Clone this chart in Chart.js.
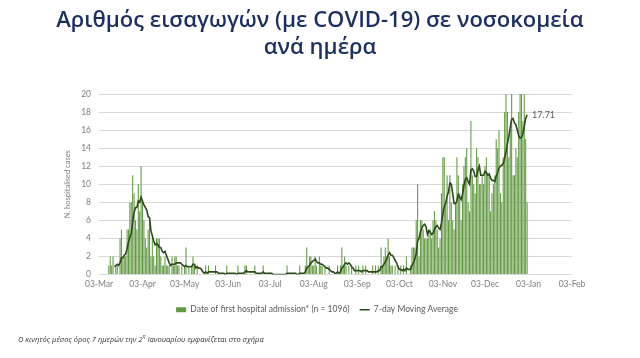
<!DOCTYPE html>
<html><head><meta charset="utf-8">
<script src="https://cdn.jsdelivr.net/npm/chart.js@4.4.1/dist/chart.umd.min.js"></script>
<style>
html,body{margin:0;padding:0;background:#fff;width:640px;height:358px;overflow:hidden;}
#wrap{position:relative;width:640px;height:358px;}
canvas{position:absolute;left:0;top:0;}
#title{position:absolute;left:0;top:5px;width:640px;text-align:center;font-family:'Open Sans',sans-serif;font-weight:600;font-size:22px;line-height:27px;color:#1c2f5e;}
#note{position:absolute;left:18px;top:333px;font-family:'Open Sans',sans-serif;font-style:italic;font-size:7.5px;color:#333333;white-space:nowrap;}
#note sup{font-size:5px;}
</style></head>
<body><div id="wrap"><canvas id="c" width="640" height="358"></canvas>
<div id="title">Αριθμός εισαγωγών (με COVID-19) σε νοσοκομεία<br>ανά ημέρα</div>
<div id="note">Ο κινητός μέσος όρος 7 ημερών την 2<sup>η</sup> Ιανουαρίου εμφανίζεται στο σχήμα</div>
</div>
<script>
// Day 0 = 03 Mar 2020; one value per day up to 02 Jan 2021
const firstDayLabel = '2020-03-03';
const tickLabels = ['03-Mar','03-Apr','03-May','03-Jun','03-Jul','03-Aug','03-Sep','03-Oct','03-Nov','03-Dec','03-Jan','03-Feb'];
const seriesNames = ['Date of first hospital admission* (n = 1096)', '7-day Moving Average'];

const admissions = [
0,0,0,0,0,0,0,1,2,1,
2,0,1,1,0,4,5,2,2,2,
5,5,8,8,11,9,6,5,10,7,
12,8,6,4,3,5,6,2,4,2,
1,4,4,4,2,1,1,2,1,1,
1,0,2,1,2,2,1,1,0,1,
0,1,3,0,1,0,1,2,1,0,
1,0,0,0,0,0,1,0,1,0,
0,0,0,1,0,0,0,0,0,0,
0,1,0,0,0,0,0,0,0,1,
0,0,0,0,1,1,0,0,0,0,
0,1,0,0,0,0,0,1,0,0,
0,0,0,0,0,0,0,0,0,0,
0,0,0,0,1,0,0,0,0,0,
0,0,0,1,0,0,0,1,3,1,
2,2,1,1,2,1,0,2,1,1,
0,1,0,0,1,0,0,0,0,0,
1,0,1,3,1,2,1,0,1,0,
1,0,0,1,0,1,0,0,1,0,
1,0,0,0,0,1,0,1,0,1,
0,3,1,2,3,2,4,2,1,1,
0,1,0,1,0,1,0,1,0,2,
0,0,1,3,3,3,6,10,2,6,
6,5,4,4,4,5,5,4,6,7,
6,5,3,4,9,13,13,8,11,6,
11,8,6,5,8,13,11,9,6,10,
12,13,14,8,7,17,11,10,9,14,
13,10,10,11,10,12,13,11,11,7,
9,10,11,15,14,16,9,8,13,18,
21,18,13,16,21,11,11,14,13,18,
21,22,17,21,15,8
];

const movingAvg = [
null,null,null,null,null,null,null,null,null,null,
null,0.86,1.0,1.14,1.0,1.29,1.86,1.86,2.14,2.29,
2.86,3.57,4.14,4.57,5.86,6.86,7.43,7.43,8.14,8.0,
8.57,8.14,7.71,7.43,7.14,6.43,6.29,4.86,4.29,3.71,
3.29,3.43,3.29,3.0,3.0,2.57,2.43,2.57,2.14,1.71,
1.29,1.0,1.14,1.14,1.14,1.29,1.29,1.29,1.29,1.14,
1.0,0.86,1.0,0.86,0.86,0.86,0.86,1.14,1.14,0.71,
0.86,0.71,0.71,0.57,0.29,0.14,0.29,0.14,0.29,0.29,
0.29,0.29,0.29,0.29,0.29,0.14,0.14,0.14,0.14,0.14,
0,0.14,0.14,0.14,0.14,0.14,0.14,0.14,0,0.14,
0.14,0.14,0.14,0.14,0.29,0.43,0.29,0.29,0.29,0.29,
0.29,0.29,0.14,0.14,0.14,0.14,0.14,0.29,0.14,0.14,
0.14,0.14,0.14,0.14,0,0,0,0,0,0,
0,0,0,0,0.14,0.14,0.14,0.14,0.14,0.14,
0.14,0,0,0.14,0.14,0.14,0.14,0.29,0.71,0.86,
1.0,1.29,1.43,1.57,1.71,1.43,1.29,1.29,1.14,1.14,
1.0,0.86,0.71,0.71,0.57,0.43,0.29,0.29,0.14,0.14,
0.29,0.14,0.29,0.71,0.86,1.14,1.29,1.14,1.29,1.14,
0.86,0.71,0.43,0.43,0.43,0.43,0.43,0.29,0.43,0.43,
0.43,0.43,0.29,0.29,0.29,0.29,0.29,0.29,0.29,0.43,
0.43,0.86,0.86,1.14,1.43,1.71,2.14,2.43,2.14,2.14,
1.86,1.57,1.29,0.86,0.57,0.57,0.43,0.57,0.43,0.71,
0.57,0.57,0.57,1.0,1.29,1.71,2.29,3.71,4.0,4.71,
5.14,5.43,5.57,5.29,4.43,4.86,4.71,4.43,4.57,5.0,
5.29,5.43,5.14,5.0,5.71,6.71,7.57,7.86,8.71,9.14,
10.14,10.0,9.0,7.86,7.86,8.14,8.86,8.57,8.29,8.86,
9.86,10.57,10.71,10.29,10.0,11.57,11.71,11.43,10.86,10.86,
11.57,12.0,11.0,11.0,11.0,11.43,11.29,11.0,11.14,10.71,
10.43,10.43,10.29,10.9,11.3,11.8,12.0,12.1,12.3,12.9,
13.6,14.5,15.3,16.3,17.2,17.3,16.8,16.6,16.0,15.4,
15.1,15.2,15.6,16.4,17.3,17.71
];

// tick positions: the 3rd of each month, as day offsets from the first day
const start = new Date(firstDayLabel + 'T00:00:00Z');
const tickDays = tickLabels.map((_, i) => Math.round((Date.UTC(2020, 2 + i, 3) - start.getTime()) / 86400000));

const barData = admissions.map((v, i) => ({x: i, y: v}));
const lineData = movingAvg.map((v, i) => ({x: i, y: v}));

const gray = '#7f7f7f';
const endLabel = {
  id: 'endLabel',
  afterDatasetsDraw(chart) {
    const meta = chart.getDatasetMeta(1);
    const pt = meta.data[meta.data.length - 1];
    const ctx = chart.ctx;
    ctx.save();
    ctx.font = '9px Lato';
    ctx.fillStyle = '#595959';
    ctx.textAlign = 'left';
    ctx.textBaseline = 'middle';
    ctx.fillText(movingAvg[movingAvg.length - 1].toFixed(2), pt.x + 5, pt.y);
    ctx.restore();
  }
};

new Chart(document.getElementById('c'), {
  type: 'bar',
  data: {
    datasets: [
      {type: 'bar', label: seriesNames[0], data: barData, backgroundColor: '#649a45', borderWidth: 0,
       barPercentage: 0.9, categoryPercentage: 0.85, order: 1, pointStyle: 'rect'},
      {type: 'line', label: seriesNames[1], data: lineData, borderColor: '#2c4a1c', backgroundColor: '#2c4a1c',
       borderWidth: 1.6, pointRadius: 0, tension: 0, fill: false, order: 0, pointStyle: 'line'}
    ]
  },
  options: {
    responsive: false,
    animation: false,
    layout: {padding: {left: 62, right: 68, top: 94, bottom: 34}},
    plugins: {
      title: {display: false},
      tooltip: {enabled: false},
      legend: {
        position: 'bottom',
        labels: {
          usePointStyle: true, pointStyleWidth: 10, boxHeight: 5,
          color: '#595959', font: {family: 'Lato', size: 8.5}, padding: 10,
          sort: (a, b) => a.datasetIndex - b.datasetIndex
        }
      }
    },
    scales: {
      x: {
        type: 'linear', min: 0, max: tickDays[tickDays.length - 1], offset: false,
        grid: {display: false, drawTicks: false}, border: {display: false},
        afterBuildTicks: s => { s.ticks = tickDays.map(v => ({value: v})); },
        afterFit: s => { s.height = 21; },
        ticks: {autoSkip: false, maxRotation: 0, padding: 5, color: gray,
                font: {family: 'Lato', size: 8.5},
                callback: (v, i) => tickLabels[i]}
      },
      y: {
        min: 0, max: 20,
        grid: {color: '#d9d9d9', drawTicks: false}, border: {display: false},
        afterFit: s => { s.width = 37; },
        ticks: {stepSize: 2, padding: 8, color: gray, font: {family: 'Lato', size: 8.5}},
        title: {display: true, text: 'N. hospitalised cases', color: gray,
                font: {family: 'Lato', size: 7.5}, padding: {top: 1, bottom: 0}}
      }
    }
  },
  plugins: [endLabel]
});
</script>
</body></html>
